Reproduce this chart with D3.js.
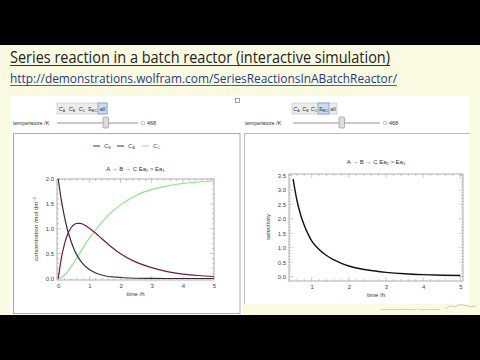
<!DOCTYPE html>
<html>
<head>
<meta charset="utf-8">
<script src="https://cdn.jsdelivr.net/npm/d3@7"></script>
<style>
  body { margin: 0; background: #000; }
  svg { display: block; }
</style>
</head>
<body>
<div id="chart"></div>
<script>
const W = 480, H = 360;

// concentration plot (left)
const timeH = [0, 0.1, 0.2, 0.3, 0.4, 0.5, 0.6, 0.7, 0.8, 1.0, 1.2, 1.4, 1.6, 1.8, 2.0, 2.5, 3.0, 3.5, 4.0, 4.5, 5.0];
const concA = [2.0, 1.57, 1.24, 0.97, 0.77, 0.60, 0.47, 0.37, 0.29, 0.18, 0.11, 0.07, 0.04, 0.03, 0.02, 0.005, 0.001, 0, 0, 0, 0];
const concB = [0, 0.41, 0.69, 0.89, 1.01, 1.08, 1.11, 1.11, 1.09, 1.01, 0.91, 0.80, 0.69, 0.59, 0.50, 0.33, 0.22, 0.14, 0.09, 0.06, 0.04];
const concC = [0, 0.02, 0.07, 0.14, 0.23, 0.32, 0.42, 0.52, 0.62, 0.81, 0.98, 1.13, 1.27, 1.38, 1.48, 1.67, 1.79, 1.86, 1.91, 1.94, 1.96];
const concTicksX = [0, 1, 2, 3, 4, 5];
const concTicksY = [0, 0.5, 1.0, 1.5, 2.0];

// selectivity plot (right)
const selTime = [0.5, 0.6, 0.7, 0.8, 0.9, 1.0, 1.2, 1.4, 1.6, 1.8, 2.0, 2.5, 3.0, 3.5, 4.0, 4.5, 5.0];
const selectivity = [3.37, 2.66, 2.15, 1.78, 1.48, 1.24, 0.94, 0.73, 0.58, 0.46, 0.37, 0.23, 0.15, 0.10, 0.07, 0.05, 0.04];
const selTicksX = [1, 2, 3, 4, 5];
const selTicksY = [0, 0.5, 1.0, 1.5, 2.0, 2.5, 3.0, 3.5];

const buttons = ["A", "B", "C", "S", "all"];

const svg = d3.select("#chart").append("svg")
    .attr("width", W)
    .attr("height", H);

// slide background
svg.append("rect").attr("x", 0).attr("y", 0).attr("width", W).attr("height", H).attr("fill", "#000");
svg.append("rect").attr("x", 0).attr("y", 45).attr("width", W).attr("height", 270).attr("fill", "#fafae3");

svg.append("text")
    .attr("x", 10).attr("y", 63)
    .attr("font-family", "Open Sans")
    .attr("font-size", 16.5)
    .attr("fill", "#222")
    .attr("textLength", 380).attr("lengthAdjust", "spacingAndGlyphs")
    .text("Series reaction in a batch reactor (interactive simulation)");
svg.append("line").attr("x1", 10).attr("x2", 390).attr("y1", 65.5).attr("y2", 65.5)
    .attr("stroke", "#333").attr("stroke-width", 1);

svg.append("text")
    .attr("x", 10).attr("y", 83)
    .attr("font-family", "Open Sans")
    .attr("font-size", 12)
    .attr("fill", "#1f3b86")
    .attr("textLength", 387).attr("lengthAdjust", "spacingAndGlyphs")
    .text("http://demonstrations.wolfram.com/SeriesReactionsInABatchReactor/");
svg.append("line").attr("x1", 10).attr("x2", 397).attr("y1", 85.5).attr("y2", 85.5)
    .attr("stroke", "#1f3b86").attr("stroke-width", 0.8);

// white panels
svg.append("rect").attr("x", 10).attr("y", 96).attr("width", 460).attr("height", 208).attr("fill", "#fff");
svg.append("rect").attr("x", 10).attr("y", 96).attr("width", 233).attr("height", 219).attr("fill", "#fff");
svg.append("rect").attr("x", 13.5).attr("y", 133.5).attr("width", 226.5).attr("height", 180)
    .attr("fill", "none").attr("stroke", "#aaa");
svg.append("line").attr("x1", 244.5).attr("x2", 244.5).attr("y1", 133).attr("y2", 304).attr("stroke", "#bbb");
svg.append("line").attr("x1", 244).attr("x2", 470).attr("y1", 133.5).attr("y2", 133.5).attr("stroke", "#bbb");

// small icon between panels
svg.append("rect").attr("x", 235.5).attr("y", 98.5).attr("width", 4).attr("height", 4)
    .attr("fill", "none").attr("stroke", "#777").attr("stroke-width", 0.7);

const font = "Liberation Sans";

const drawControls = (x0, widths, hi, sliderX0, sliderX1, thumbX) => {
    const g = svg.append("g");
    let x = x0;
    const total = d3.sum(widths);
    g.append("rect").attr("x", x0).attr("y", 103).attr("width", total).attr("height", 11)
        .attr("fill", "#ececec").attr("stroke", "#c4c4c4").attr("stroke-width", 0.6);
    buttons.forEach((b, i) => {
        if (i === hi) {
            g.append("rect").attr("x", x).attr("y", 103).attr("width", widths[i]).attr("height", 11)
                .attr("fill", "#c9dcef").attr("stroke", "#6f93c0").attr("stroke-width", 0.7);
        }
        const t = g.append("text")
            .attr("x", x + widths[i] / 2).attr("y", 110.5)
            .attr("text-anchor", "middle")
            .attr("font-family", font).attr("font-size", 5.5).attr("fill", "#333");
        if (b === "all") {
            t.text("all");
        } else if (b === "S") {
            t.append("tspan").attr("font-style", "italic").text("S");
            t.append("tspan").attr("font-size", 3.5).attr("dy", 1).text("B/C");
        } else {
            t.append("tspan").attr("font-style", "italic").text("C");
            t.append("tspan").attr("font-size", 3.5).attr("dy", 1).text(b);
        }
        x += widths[i];
    });

    g.append("text").attr("x", x0 < 200 ? 13 : 245).attr("y", 125)
        .attr("font-family", font).attr("font-size", 5.5).attr("fill", "#333")
        .text("temperature /K");
    g.append("line").attr("x1", sliderX0).attr("x2", sliderX1).attr("y1", 123).attr("y2", 123)
        .attr("stroke", "#777").attr("stroke-width", 0.8);
    g.append("rect").attr("x", thumbX).attr("y", 117).attr("width", 5.5).attr("height", 11).attr("rx", 1)
        .attr("fill", "#ddd").attr("stroke", "#888").attr("stroke-width", 0.6);
    g.append("circle").attr("cx", sliderX1 + 5).attr("cy", 123).attr("r", 1.8)
        .attr("fill", "none").attr("stroke", "#888").attr("stroke-width", 0.5);
    g.append("text").attr("x", sliderX1 + 9).attr("y", 125)
        .attr("font-family", font).attr("font-size", 5.5).attr("fill", "#333")
        .text("468");
};

drawControls(57, [10, 10, 10, 11, 9], 4, 57, 138, 103);
drawControls(292, [9, 9, 8, 11, 8], 3, 293, 380, 339);

// generic Mathematica-style framed plot
const framePlot = (opt) => {
    const x = d3.scaleLinear().domain(opt.xDomain).range([opt.left, opt.right]);
    const y = d3.scaleLinear().domain(opt.yDomain).range([opt.bottom, opt.top]);
    const g = svg.append("g");

    g.append("rect").attr("x", opt.left).attr("y", opt.top)
        .attr("width", opt.right - opt.left).attr("height", opt.bottom - opt.top)
        .attr("fill", "none").attr("stroke", "#999").attr("stroke-width", 0.8);

    const minorX = d3.range(opt.xDomain[0] - (opt.xDomain[0] % opt.xMinor), opt.xDomain[1], opt.xMinor)
        .filter(v => v >= opt.xDomain[0]);
    const minorY = d3.range(0, opt.yDomain[1] + 1e-9, opt.yMinor);

    minorX.forEach(v => {
        const major = opt.xTicks.some(t => Math.abs(t - v) < 1e-6);
        const len = major ? 4 : 2;
        g.append("line").attr("x1", x(v)).attr("x2", x(v)).attr("y1", opt.bottom).attr("y2", opt.bottom - len)
            .attr("stroke", "#999").attr("stroke-width", 0.5);
        g.append("line").attr("x1", x(v)).attr("x2", x(v)).attr("y1", opt.top).attr("y2", opt.top + len)
            .attr("stroke", "#999").attr("stroke-width", 0.5);
    });
    minorY.forEach(v => {
        const major = opt.yTicks.some(t => Math.abs(t - v) < 1e-6);
        const len = major ? 4 : 2;
        g.append("line").attr("y1", y(v)).attr("y2", y(v)).attr("x1", opt.left).attr("x2", opt.left + len)
            .attr("stroke", "#999").attr("stroke-width", 0.5);
        g.append("line").attr("y1", y(v)).attr("y2", y(v)).attr("x1", opt.right).attr("x2", opt.right - len)
            .attr("stroke", "#999").attr("stroke-width", 0.5);
    });

    const xAxis = d3.axisBottom(x).tickValues(opt.xTicks).tickSize(0).tickPadding(4).tickFormat(d3.format("d"));
    const yAxis = d3.axisLeft(y).tickValues(opt.yTicks).tickSize(0).tickPadding(3).tickFormat(d3.format(".1f"));
    const ax = g.append("g").attr("transform", `translate(0,${opt.bottom})`).call(xAxis);
    const ay = g.append("g").attr("transform", `translate(${opt.left},0)`).call(yAxis);
    [ax, ay].forEach(a => {
        a.select(".domain").remove();
        a.selectAll("text").attr("font-family", font).attr("font-size", 6).attr("fill", "#444");
    });

    g.append("text").attr("x", (opt.left + opt.right) / 2).attr("y", opt.bottom + 16)
        .attr("text-anchor", "middle").attr("font-family", font).attr("font-size", 6).attr("fill", "#333")
        .text("time /h");

    const title = g.append("text").attr("x", (opt.left + opt.right) / 2).attr("y", opt.titleY)
        .attr("text-anchor", "middle").attr("font-family", font).attr("font-size", 6).attr("fill", "#333");
    title.append("tspan").text("A \u2192 B \u2192 C   Ea");
    title.append("tspan").attr("font-size", 4).attr("dy", 1.2).text("2");
    title.append("tspan").attr("dy", -1.2).text(" > Ea");
    title.append("tspan").attr("font-size", 4).attr("dy", 1.2).text("1");

    return { x, y, g };
};

// left: concentrations
const left = framePlot({
    xDomain: [-0.04, 5.0], yDomain: [-0.03, 2.0],
    left: 57, right: 214, top: 179, bottom: 280,
    xTicks: concTicksX, yTicks: concTicksY, xMinor: 0.2, yMinor: 0.1,
    titleY: 171
});

const ylab = left.g.append("text")
    .attr("transform", "translate(38,229) rotate(-90)")
    .attr("text-anchor", "middle").attr("font-family", font).attr("font-size", 6).attr("fill", "#333");
ylab.append("tspan").text("concentration /mol dm");
ylab.append("tspan").attr("font-size", 4).attr("dy", -2.5).text("\u22123");

const seriesList = [
    { name: "B", values: concB, color: "#6e1c3c" },
    { name: "A", values: concA, color: "#3a2a36" },
    { name: "C", values: concC, color: "#8fe38a" }
];

const lineConc = (vals) => d3.line()
    .x((d, i) => left.x(timeH[i]))
    .y(d => left.y(d))
    .curve(d3.curveMonotoneX)(vals);

seriesList.slice().reverse().forEach(s => {
    left.g.append("path")
        .attr("d", lineConc(s.values))
        .attr("fill", "none")
        .attr("stroke", s.color)
        .attr("stroke-width", 1.2);
});

// legend
const legX = [93, 117, 142];
seriesList.forEach((s, i) => {
    left.g.append("line").attr("x1", legX[i]).attr("x2", legX[i] + 7).attr("y1", 146).attr("y2", 146)
        .attr("stroke", s.color).attr("stroke-width", 1);
    const t = left.g.append("text").attr("x", legX[i] + 11).attr("y", 148)
        .attr("font-family", font).attr("font-size", 6).attr("fill", "#555");
    t.append("tspan").attr("font-style", "italic").text("C");
    t.append("tspan").attr("font-size", 4).attr("dy", 1).text(s.name);
});

// right: selectivity
const right = framePlot({
    xDomain: [0.39, 5.07], yDomain: [-0.15, 3.55],
    left: 289, right: 463, top: 174, bottom: 281,
    xTicks: selTicksX, yTicks: selTicksY, xMinor: 0.2, yMinor: 0.1,
    titleY: 164
});

right.g.append("text")
    .attr("transform", "translate(270,227) rotate(-90)")
    .attr("text-anchor", "middle").attr("font-family", font).attr("font-size", 6).attr("fill", "#333")
    .text("selectivity");

right.g.append("path")
    .attr("d", d3.line()
        .x((d, i) => right.x(selTime[i]))
        .y(d => right.y(d))
        .curve(d3.curveMonotoneX)(selectivity))
    .attr("fill", "none")
    .attr("stroke", "#111")
    .attr("stroke-width", 1.4);

// faint footer credit
svg.append("text").attr("x", 440).attr("y", 310).attr("text-anchor", "end")
    .attr("font-family", font).attr("font-size", 2.5).attr("fill", "#888")
    .text("Wolfram Demonstrations Project \u00a9 Wolfram Research");
svg.append("path").attr("d", "M445,309 q5,-5 10,-2 q5,-4 12,-1 q4,1 9,0")
    .attr("fill", "none").attr("stroke", "#999").attr("stroke-width", 0.5);
</script>
</body>
</html>
